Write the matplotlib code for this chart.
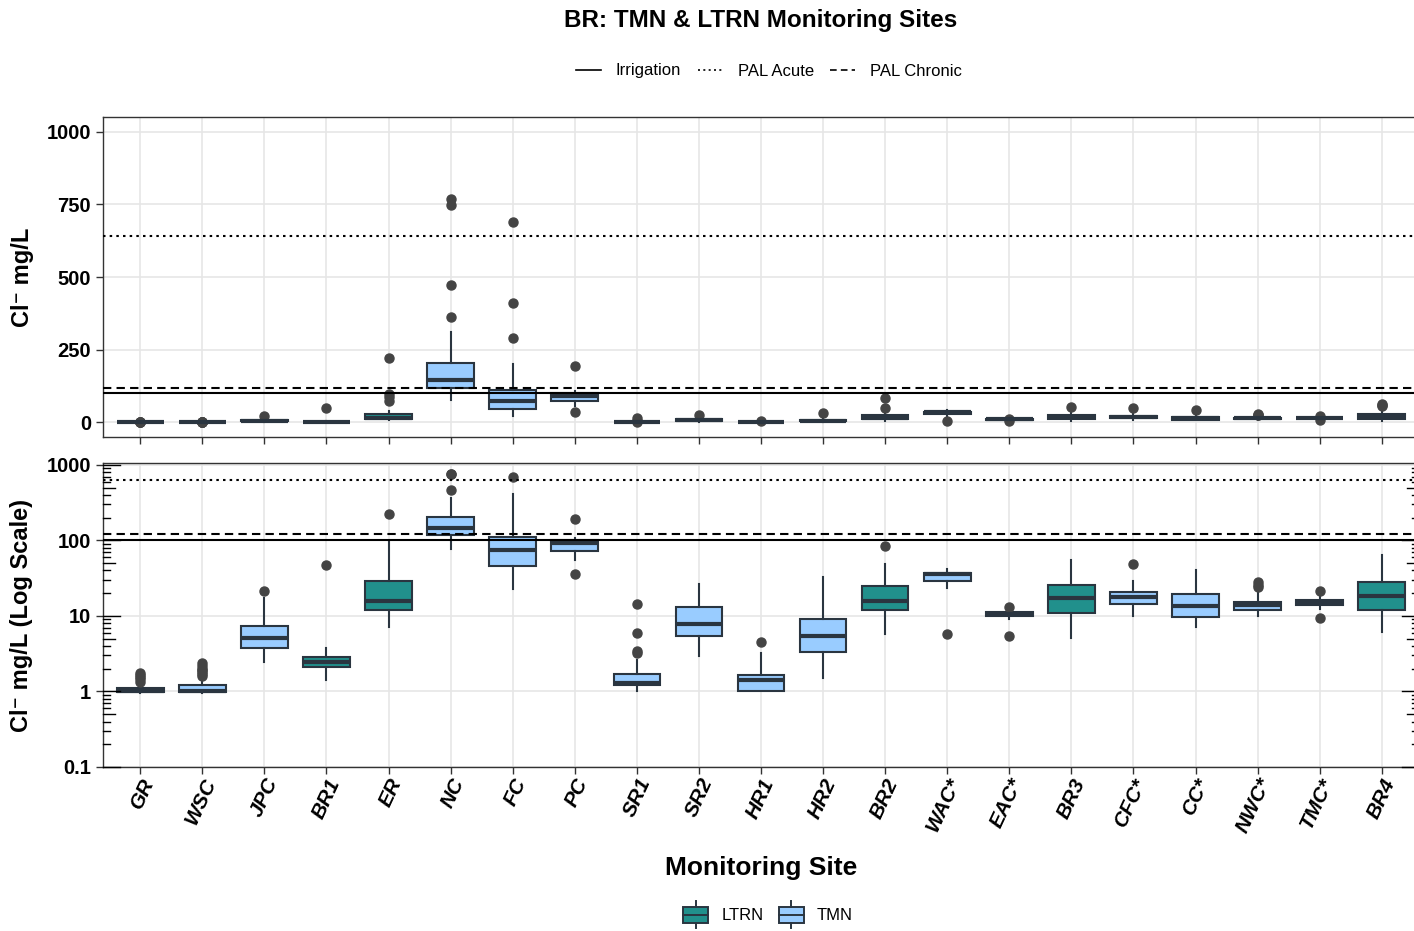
import numpy as np
import matplotlib.pyplot as plt
from matplotlib.lines import Line2D
from matplotlib.patches import Patch, Rectangle
from matplotlib.legend_handler import HandlerBase
from matplotlib.ticker import NullLocator, FixedLocator

plt.rcParams['font.family'] = ['Liberation Sans', 'DejaVu Sans']

# monitoring sites and network
sites = ["GR", "WSC", "JPC", "BR1", "ER", "NC", "FC", "PC", "SR1", "SR2", "HR1",
         "HR2", "BR2", "WAC*", "EAC*", "BR3", "CFC*", "CC*", "NWC*", "TMC*", "BR4"]
network = ["TMN", "TMN", "TMN", "LTRN", "LTRN", "TMN", "TMN", "TMN", "TMN", "TMN", "TMN",
           "TMN", "LTRN", "TMN", "TMN", "LTRN", "TMN", "TMN", "TMN", "TMN", "LTRN"]

# box statistics (Cl- mg/L)
q1 = [0.97, 0.97, 3.75, 2.1, 12.1, 119, 45.6, 73, 1.2, 5.4, 1.0,
      3.3, 12.1, 28.6, 9.9, 10.9, 14.5, 9.8, 12.1, 13.8, 12.1]
med = [1.0, 1.0, 5.1, 2.45, 16, 147, 75, 92, 1.3, 7.8, 1.4,
       5.5, 16, 35.5, 10.7, 17.2, 17.7, 13.7, 13.8, 15.1, 18.5]
q3 = [1.1, 1.2, 7.3, 2.85, 28.9, 205, 112, 101, 1.68, 13.3, 1.63,
      9.2, 25.3, 37.6, 11.4, 25.9, 20.9, 19.7, 15.4, 16.4, 28]
whis_lo = [0.95, 0.95, 2.42, 1.4, 7.2, 76, 23, 55, 1.03, 2.93, 1.0,
           1.5, 5.8, 23.6, 9.2, 5.1, 9.9, 7.1, 10.1, 12.4, 6.1]

# whiskers / outliers on log scale
whis_hi_log = [1.25, 1.4, 17.2, 3.8, 99, 361, 412, 108, 2.63, 26.6, 3.2,
               32.7, 49, 42, 12.2, 54.4, 28.6, 41.2, 20, 18.1, 65]
out_log = [[1.35, 1.45, 1.55, 1.65, 1.75], [1.6, 1.7, 1.8, 1.9, 2.0, 2.2, 2.4], [21.3], [48], [222],
           [471, 748, 769], [689], [35.5, 193], [3.2, 3.4, 5.9, 14.2], [], [4.5],
           [], [84], [5.7], [5.5, 13], [], [49], [], [24, 26, 28], [9.4, 21.3], []]

# whiskers / outliers on linear scale
whis_hi_lin = [1.25, 1.4, 17.2, 3.8, 40, 310, 202, 108, 2.63, 20, 3.2,
               20, 35, 42, 12.2, 40, 28.6, 30, 20, 18.1, 50]
out_lin = [[1.35, 1.45, 1.55, 1.65, 1.75], [1.6, 1.7, 1.8, 1.9, 2.0, 2.2, 2.4], [21.3], [48], [73, 86, 99, 222],
           [361, 471, 748, 769], [292, 412, 689], [35.5, 193], [3.2, 3.4, 5.9, 14.2], [26.6], [4.5],
           [32.7], [49, 84], [5.7], [5.5, 13], [54.4], [49], [41.2], [24, 26, 28], [9.4, 21.3], [55, 60, 65]]

# guideline values
irrigation = 100
pal_acute = 640
pal_chronic = 120

fill = {"LTRN": "#21908C", "TMN": "#99CCFF"}
edge = "#2A3540"

W, H = 1414, 931
fig = plt.figure(figsize=(W / 100, H / 100), dpi=100)


def px_axes(x0, y0, x1, y1):
    return fig.add_axes([x0 / W, 1 - y1 / H, (x1 - x0) / W, (y1 - y0) / H])


def make_stats(hi, out):
    return [dict(q1=q1[i], med=med[i], q3=q3[i], whislo=whis_lo[i], whishi=hi[i],
                 fliers=out[i], label=sites[i]) for i in range(len(sites))]


def draw(ax, stats):
    ax.grid(True, color="#E6E6E6", lw=1.2, zorder=0)
    ax.set_axisbelow(True)
    bp = ax.bxp(stats, positions=np.arange(len(sites)), widths=0.75, patch_artist=True,
                showcaps=False,
                boxprops=dict(edgecolor=edge, linewidth=1.5),
                medianprops=dict(color=edge, linewidth=3.0, solid_capstyle="butt"),
                whiskerprops=dict(color=edge, linewidth=1.5),
                flierprops=dict(marker="o", markerfacecolor="#444444", markeredgecolor="#444444",
                                markersize=6.5))
    for patch, net in zip(bp["boxes"], network):
        patch.set_facecolor(fill[net])
    ax.axhline(irrigation, color="black", lw=1.5, ls="-", zorder=4)
    ax.axhline(pal_acute, color="black", lw=1.5, ls=(0, (1.2, 2.0)), zorder=4)
    ax.axhline(pal_chronic, color="black", lw=1.5, ls=(0, (4, 2.5)), zorder=4)
    ax.set_xlim(-0.6, len(sites) - 0.4)
    ax.set_xticks(np.arange(len(sites)))
    for s in ax.spines.values():
        s.set_color("#333333")
        s.set_linewidth(1.0)
    ax.tick_params(direction="out", length=5, width=1, color="#333333")


ax1 = px_axes(103, 117, 1419, 437)
ax2 = px_axes(103, 463, 1419, 767)

# linear panel
draw(ax1, make_stats(whis_hi_lin, out_lin))
ax1.set_ylim(-50, 1050)
ax1.set_yticks([0, 250, 500, 750, 1000])
ax1.set_yticklabels(["0", "250", "500", "750", "1000"], fontweight="bold", fontsize=14.5)
ax1.set_xticklabels([])

# log panel
ax2.set_yscale("log")
draw(ax2, make_stats(whis_hi_log, out_log))
ax2.set_ylim(0.1, 1060)
ax2.yaxis.set_major_locator(FixedLocator([0.1, 1, 10, 100, 1000]))
ax2.yaxis.set_minor_locator(NullLocator())
ax2.set_yticklabels(["0.1", "1", "10", "100", "1000"], fontweight="bold", fontsize=14.5)
ax2.set_xticklabels(sites, rotation=65, ha="right", va="top", rotation_mode="anchor",
                    fontsize=15, fontweight="bold", fontstyle="italic")
ax2.tick_params(axis="x", pad=1)

# log ticks on both sides
pw = 1316.0
trans = ax2.get_yaxis_transform()
for k in range(-1, 3):
    for m in range(1, 10):
        v = m * 10.0 ** k
        L = 17 if m == 1 else (12 if m == 5 else 7)
        ax2.plot([0, L / pw], [v, v], color="black", lw=1.0, transform=trans, clip_on=False, zorder=5)
        ax2.plot([1 - L / pw, 1], [v, v], color="black", lw=1.0, transform=trans, clip_on=False, zorder=5)
ax2.plot([0, 17 / pw], [1000, 1000], color="black", lw=1.0, transform=trans, clip_on=False, zorder=5)

# texts
fig.text(761 / W, 1 - 20 / H, "BR: TMN & LTRN Monitoring Sites", ha="center", va="center",
         fontsize=17.5, fontweight="bold")
fig.text(22 / W, 1 - 277 / H, "Cl\u207b mg/L", rotation=90, ha="center", va="center",
         fontsize=17, fontweight="bold")
fig.text(22 / W, 1 - 615 / H, "Cl\u207b mg/L (Log Scale)", rotation=90, ha="center", va="center",
         fontsize=17, fontweight="bold")
fig.text(761 / W, 1 - 868 / H, "Monitoring Site", ha="center", va="center",
         fontsize=19, fontweight="bold")

# guideline legend
line_handles = [Line2D([], [], color="black", lw=1.2, ls="-"),
                Line2D([], [], color="black", lw=1.2, ls=(0, (1.2, 2.0))),
                Line2D([], [], color="black", lw=1.2, ls=(0, (4, 2.5)))]
fig.legend(line_handles, ["Irrigation", "PAL Acute", "PAL Chronic"], loc="center",
           bbox_to_anchor=(769 / W, 1 - 71 / H), ncol=3, frameon=False, fontsize=12,
           handlelength=1.5, handletextpad=0.9, columnspacing=1.0)


class BoxKey(HandlerBase):
    def create_artists(self, legend, orig, xd, yd, w, h, fs, trans):
        cx = w / 2 - xd
        r = Rectangle((-xd, -yd), w, h, facecolor=orig.get_facecolor(), edgecolor=edge,
                      lw=1.4, transform=trans)
        mid = Line2D([-xd, w - xd], [h / 2 - yd] * 2, color=edge, lw=1.4, transform=trans)
        lo = Line2D([cx, cx], [-yd - h * 0.35, -yd], color=edge, lw=1.4, transform=trans)
        hi = Line2D([cx, cx], [h - yd, h - yd + h * 0.35], color=edge, lw=1.4, transform=trans)
        return [r, mid, lo, hi]


net_handles = [Patch(facecolor=fill["LTRN"]), Patch(facecolor=fill["TMN"])]
fig.legend(net_handles, ["LTRN", "TMN"], loc="center", bbox_to_anchor=(768 / W, 1 - 915 / H),
           ncol=2, frameon=False, fontsize=12, handlelength=1.5, handleheight=1.1,
           handletextpad=0.8, columnspacing=0.9, handler_map={Patch: BoxKey()})

fig.savefig("out.png", dpi=100)
